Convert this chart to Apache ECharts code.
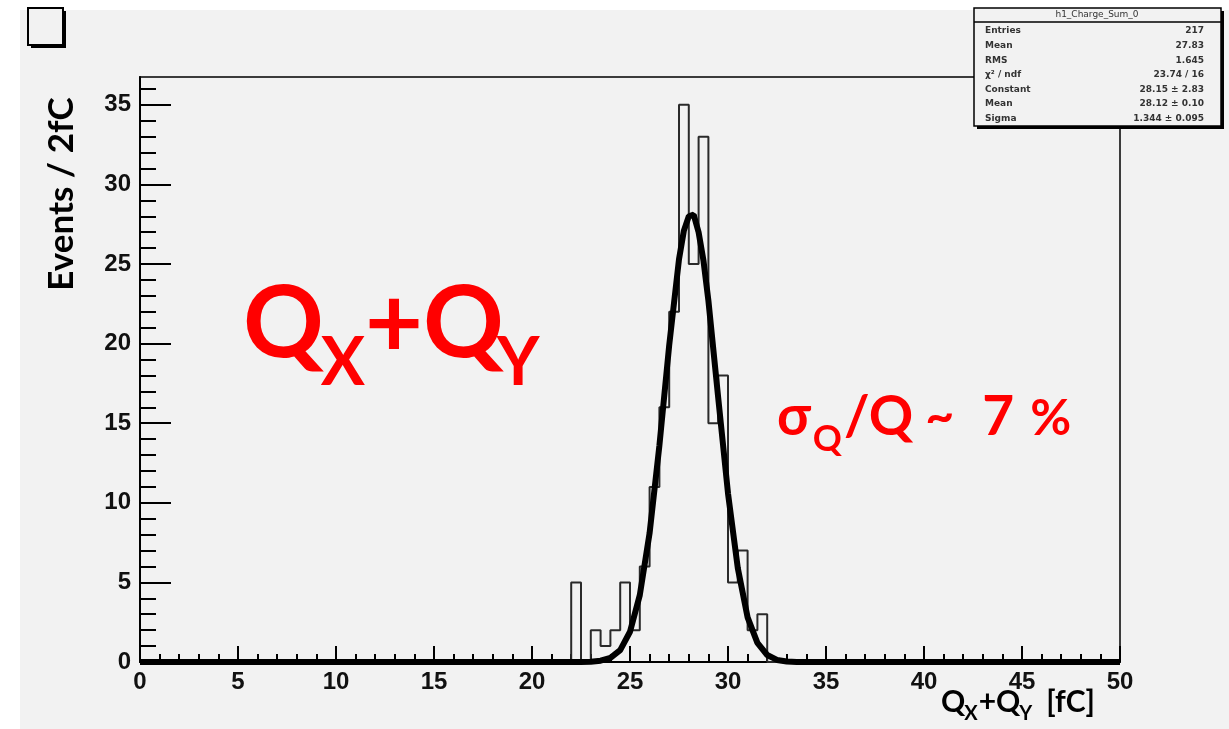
<!DOCTYPE html>
<html>
<head>
<meta charset="utf-8">
<script src="https://cdn.jsdelivr.net/npm/echarts@6/dist/echarts.min.js"></script>
<style>
  html, body { margin: 0; padding: 0; background: #fff; }
  #chart { width: 1229px; height: 729px; }
</style>
</head>
<body>
<div id="chart"></div>
<script>
// histogram bins (low edge, width 0.5 fC) and counts
const binLow = [22, 22.5, 23, 23.5, 24, 24.5, 25, 25.5, 26, 26.5, 27, 27.5, 28, 28.5, 29, 29.5, 30, 30.5, 31, 31.5]
const counts = [5, 0, 2, 1, 2, 5, 2, 6, 11, 16, 22, 35, 25, 33, 15, 18, 5, 7, 2, 3]
const binWidth = 0.5

// gaussian fit curve
const fitX = [0, 22, 22.5, 23, 23.5, 24, 24.5, 25, 25.5, 26, 26.5, 27, 27.5, 27.75, 28, 28.25, 28.5, 28.75, 29, 29.5, 30, 30.5, 31, 31.5, 32, 32.5, 33, 33.5, 50]
const fitY = [0, 0, 0, 0.02, 0.08, 0.26, 0.75, 1.9, 4.2, 8.1, 13.6, 19.9, 25.3, 27.1, 28.0, 28.1, 27.0, 25.2, 22.7, 16.6, 10.6, 5.9, 2.8, 1.2, 0.44, 0.13, 0.03, 0, 0]

// axis ticks
const yMajor = [0, 5, 10, 15, 20, 25, 30, 35]
const yMinor = [0, 1, 2, 3, 4, 6, 7, 8, 9, 11, 12, 13, 14, 16, 17, 18, 19, 21, 22, 23, 24, 26, 27, 28, 29, 31, 32, 33, 34, 36]

// stats box
const statTitle = 'h1_Charge_Sum_0'
const statNames = ['Entries', 'Mean', 'RMS', 'χ² / ndf', 'Constant', 'Mean', 'Sigma']
const statValues = ['217', '27.83', '1.645', '23.74 / 16', '28.15 ± 2.83', '28.12 ± 0.10', '1.344 ± 0.095']

// build step outline for the histogram
let histData = [[0, 0]]
for (let i = 0; i < binLow.length; i++) {
    histData.push([binLow[i], counts[i]])
}
histData.push([binLow[binLow.length - 1] + binWidth, 0])
histData.push([50, 0])

let fitData = []
for (let i = 0; i < fitX.length; i++) {
    fitData.push([fitX[i], fitY[i]])
}

// text runs with subscripts, placed on a common baseline
const mctx = document.createElement('canvas').getContext('2d')
function midOffset(font) {
    mctx.font = font
    mctx.textBaseline = 'alphabetic'
    let a = mctx.measureText('H').actualBoundingBoxAscent
    mctx.textBaseline = 'middle'
    let b = mctx.measureText('H').actualBoundingBoxAscent
    return a - b
}
function textRun(x, base, color, family, pieces) {
    let out = []
    let cx = x
    for (let i = 0; i < pieces.length; i++) {
        let p = pieces[i]
        let font = 'bold ' + p[1] + 'px ' + family
        mctx.font = font
        let w = mctx.measureText(p[0]).width
        out.push({
            type: 'text',
            x: cx,
            y: base + p[2] - midOffset(font),
            style: {
                text: p[0], fill: color, font: font,
                align: 'left', verticalAlign: 'middle'
            }
        })
        cx += w + (p[3] || 0)
    }
    return out
}

const latoFam = 'Lato, "Open Sans", sans-serif'

let graphics = [
    // white margins outside the gray pad
    { type: 'rect', shape: { x: 0, y: 0, width: 20, height: 729 }, style: { fill: '#fff' }, z: -1 },
    { type: 'rect', shape: { x: 0, y: 0, width: 1229, height: 10 }, style: { fill: '#fff' }, z: -1 },
    // empty box top-left, with shadow
    { type: 'rect', shape: { x: 31, y: 11, width: 35, height: 37 }, style: { fill: '#000' } },
    { type: 'rect', shape: { x: 28, y: 8, width: 35, height: 37 }, style: { fill: '#f2f2f2', stroke: '#000', lineWidth: 2 } },
    // stats box
    { type: 'rect', shape: { x: 977, y: 11, width: 247, height: 118 }, style: { fill: '#000' }, z: 10 },
    { type: 'rect', shape: { x: 974, y: 8, width: 247, height: 118 }, style: { fill: '#f2f2f2', stroke: '#000', lineWidth: 1.5 }, z: 10 },
    { type: 'line', shape: { x1: 974, y1: 22, x2: 1221, y2: 22 }, style: { stroke: '#000', lineWidth: 1.5 }, z: 10 },
    { type: 'text', x: 1097, y: 15, z: 11, style: { text: statTitle, fill: '#333', font: '9px "DejaVu Sans", sans-serif', align: 'center', verticalAlign: 'middle' } },
    // y axis title
    {
        type: 'text', x: 62, y: 194, rotation: Math.PI / 2,
        style: { text: 'Events / 2fC', fill: '#000', font: 'bold 35px ' + latoFam, align: 'center', verticalAlign: 'middle' }
    }
]

for (let i = 0; i < statNames.length; i++) {
    let yy = 31 + i * 14.6
    graphics.push({ type: 'text', x: 985, y: yy, z: 11, style: { text: statNames[i], fill: '#333', font: 'bold 9px "DejaVu Sans", sans-serif', align: 'left', verticalAlign: 'middle' } })
    graphics.push({ type: 'text', x: 1204, y: yy, z: 11, style: { text: statValues[i], fill: '#333', font: 'bold 9px "DejaVu Sans", sans-serif', align: 'right', verticalAlign: 'middle' } })
}

// big red label
graphics = graphics.concat(textRun(243, 357, '#ff0000', latoFam, [
    ['Q', 100, 0, -3], ['X', 66, 28, 0], ['+Q', 100, 0, -7], ['Y', 66, 28, 0]
]))
// resolution label
graphics = graphics.concat(textRun(777, 435, '#ff0000', latoFam, [
    ['σ', 55, 0, 2], ['Q', 36, 16, 2], ['/Q', 55, 0, 12], ['~', 50, -2, 28], ['7', 55, 0, 16], ['%', 50, 0, 0]
]))
// x axis title
graphics = graphics.concat(textRun(941, 712, '#000', latoFam, [
    ['Q', 30, 0, -1], ['X', 20, 8, 1], ['+Q', 30, 0, -1], ['Y', 20, 8, 14], ['[fC]', 30, 0, 0]
]))

var dom = document.getElementById('chart')
var chart = echarts.init(dom, null, { renderer: 'canvas' })

const tickLabel = { fontFamily: '"Liberation Sans", Arial, sans-serif', fontWeight: 'bold', fontSize: 24, color: '#111' }

var option = {
    animation: false,
    backgroundColor: '#f2f2f2',
    grid: { left: 140, right: 109, top: 77, bottom: 67, show: true, borderColor: '#000', borderWidth: 1.5, backgroundColor: 'transparent' },
    xAxis: {
        type: 'value', min: 0, max: 50, interval: 5,
        axisLine: { show: true, onZero: false, lineStyle: { color: '#000', width: 2 } },
        axisTick: { show: true, inside: true, length: 16, lineStyle: { color: '#000', width: 2 } },
        minorTick: { show: true, splitNumber: 5, length: 8, lineStyle: { color: '#000', width: 2 } },
        splitLine: { show: false },
        axisLabel: Object.assign({ margin: 8 }, tickLabel)
    },
    yAxis: [
        {
            type: 'value', min: 0, max: 36.75, position: 'left', offset: 0,
            axisLine: { show: true, onZero: false, lineStyle: { color: '#000', width: 2 } },
            axisTick: { show: true, inside: true, length: 31, customValues: yMajor, lineStyle: { color: '#000', width: 2 } },
            axisLabel: Object.assign({ margin: 9, customValues: yMajor }, tickLabel),
            splitLine: { show: false }
        },
        {
            type: 'value', min: 0, max: 36.75, position: 'left', offset: 0,
            axisLine: { show: false },
            axisTick: { show: true, inside: true, length: 16, customValues: yMinor, lineStyle: { color: '#000', width: 2 } },
            axisLabel: { show: false },
            splitLine: { show: false }
        }
    ],
    series: [
        {
            name: 'hist', type: 'line', step: 'end', data: histData, symbol: 'none',
            lineStyle: { color: '#2a2a2a', width: 2 }, z: 3
        },
        {
            name: 'fit', type: 'line', data: fitData, symbol: 'none', smooth: false,
            lineStyle: { color: '#000', width: 6 }, z: 4
        }
    ],
    graphic: graphics
}

chart.setOption(option)
</script>
</body>
</html>
